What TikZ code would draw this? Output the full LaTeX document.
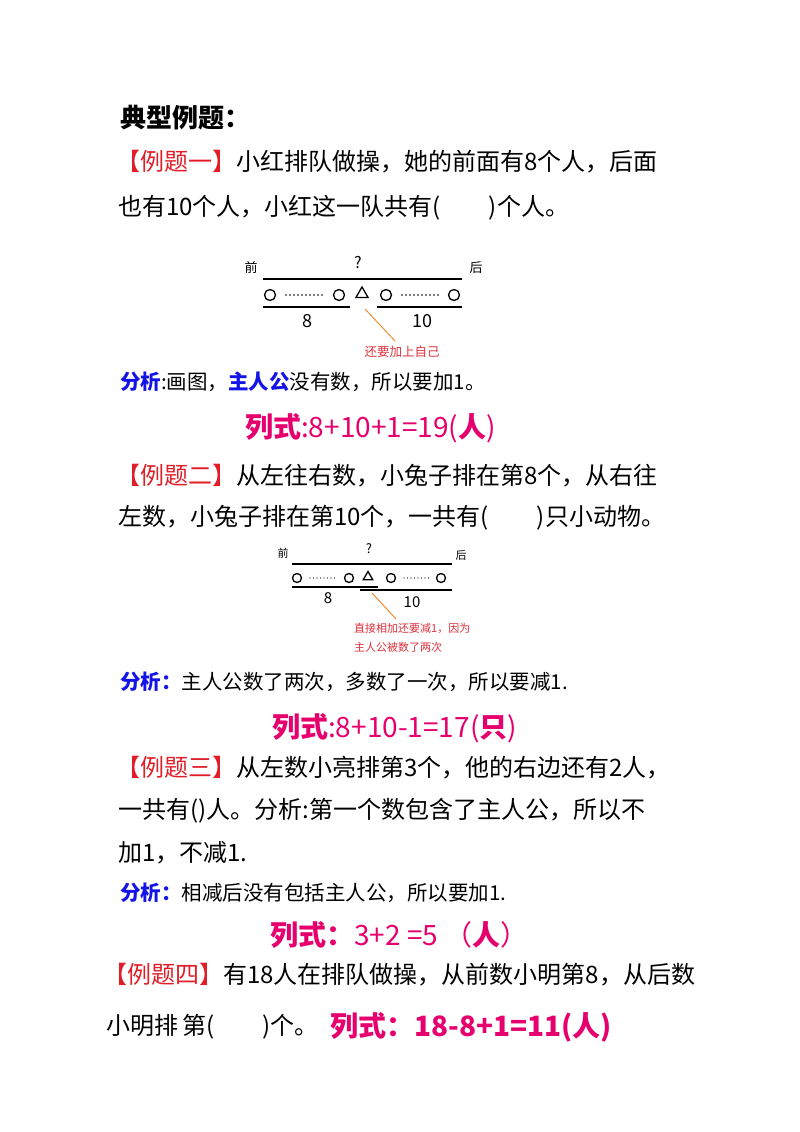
\documentclass[tikz,border=0pt]{standalone}
\usepackage{fontspec}
\setmainfont{Noto Sans CJK SC}
\definecolor{exred}{RGB}{225,30,40}
\definecolor{lsred}{RGB}{230,0,110}
\definecolor{anblue}{RGB}{20,20,230}
\definecolor{org}{RGB}{240,140,50}
\definecolor{lbl}{RGB}{220,50,60}
\usetikzlibrary{shapes.geometric}
\tikzset{
 body/.style={anchor=west,inner sep=0,font=\fontsize{24}{27}\selectfont},
 ana/.style={anchor=west,inner sep=0,font=\fontsize{20.5}{23}\selectfont},
 lis/.style={anchor=west,inner sep=0,text=lsred,font=\fontsize{28}{30}\selectfont},
 sm/.style={inner sep=0,font=\fontsize{13}{15}\selectfont},
 ln/.style={line width=1.6pt},
 circ/.style={circle,draw,line width=1.3pt,minimum size=11pt,inner sep=0},
 tri/.style={regular polygon,regular polygon sides=3,draw,line width=1.3pt,minimum size=14pt,inner sep=0},
 dots/.style={line width=1.8pt,dash pattern=on 0pt off 4pt,line cap=round},
}
\begin{document}
\begin{tikzpicture}[x=1pt,y=-1pt]
\useasboundingbox (0,0) rectangle (800,1132);
\fill[white] (0,0) rectangle (800,1132);
\node[anchor=west,inner sep=0,font=\fontsize{26}{28}\selectfont\bfseries] (t) at (120,118) {典型例题：};
\node[body] (l1) at (116,162) {\textcolor{exred}{【例题一】}小红排队做操，她的前面有8个人，后面};
\node[body] (l2) at (118,208) {也有10个人，小红这一队共有(\hspace{2em})个人。};
% diagram 1
\node[sm] (f1) at (251,268) {前};
\node[sm,font=\fontsize{16}{18}\selectfont] (q1) at (358,263) {?};
\node[sm] (h1) at (476,268) {后};
\coordinate (a1) at (263,279); \coordinate (b1) at (462,279);
\draw[ln] (a1) -- (b1);
\node[circ] (c1) at (270,295) {};
\node[circ] (c2) at (339,295) {};
\node[tri] (tr1) at (362,294) {};
\node[circ] (c3) at (386,295) {};
\node[circ] (c4) at (454,295) {};
\coordinate (d1a) at (286,295); \coordinate (d1b) at (322,295);
\coordinate (d2a) at (402,295); \coordinate (d2b) at (438,295);
\draw[dots] (d1a) -- (d1b); \draw[dots] (d2a) -- (d2b);
\coordinate (e1) at (263,307); \coordinate (e2) at (350,307);
\coordinate (e3) at (377,307); \coordinate (e4) at (462,307);
\draw[ln] (e1) -- (e2); \draw[ln] (e3) -- (e4);
\node[sm,font=\fontsize{18}{20}\selectfont] (n8) at (307,321) {8};
\node[sm,font=\fontsize{18}{20}\selectfont] (n10) at (422,321) {10};
\node[sm,text=lbl,font=\fontsize{12.5}{14}\selectfont] (lab1) at (402,352) {还要加上自己};
\coordinate (o1) at (365,309); \coordinate (o2) at (395,341);
\draw[org,line width=1pt] (o1) -- (o2);
\node[ana] (an1) at (120,382) {\textcolor{anblue}{\bfseries 分析}:画图，\textcolor{anblue}{\bfseries 主人公}没有数，所以要加1。};
\node[lis] (ls1) at (245,428) {\textbf{列式}:8+10+1=19(\textbf{人})};
\node[body] (l3) at (116,476) {\textcolor{exred}{【例题二】}从左往右数，小兔子排在第8个，从右往};
\node[body] (l4) at (118,518) {左数，小兔子排在第10个，一共有(\hspace{2em})只小动物。};
% diagram 2
\node[sm,font=\fontsize{11}{13}\selectfont] (f2) at (283,553) {前};
\node[sm,font=\fontsize{13}{15}\selectfont] (q2) at (369,549) {?};
\node[sm,font=\fontsize{11}{13}\selectfont] (h2) at (461,555) {后};
\coordinate (a2) at (292,564); \coordinate (b2) at (452,564);
\draw[line width=1.3pt] (a2) -- (b2);
\node[circ,minimum size=9pt] (k1) at (297,578) {};
\node[circ,minimum size=9pt] (k2) at (349,578) {};
\node[tri,minimum size=11pt] (tr2) at (368,577) {};
\node[circ,minimum size=9pt] (k3) at (391,578) {};
\node[circ,minimum size=9pt] (k4) at (441,578) {};
\coordinate (d3a) at (310,578); \coordinate (d3b) at (336,578);
\coordinate (d4a) at (404,578); \coordinate (d4b) at (429,578);
\draw[dots,line width=1.4pt,dash pattern=on 0pt off 3.5pt] (d3a) -- (d3b);
\draw[dots,line width=1.4pt,dash pattern=on 0pt off 3.5pt] (d4a) -- (d4b);
\coordinate (g1) at (292,587); \coordinate (g2) at (378,587);
\coordinate (g3) at (360,590); \coordinate (g4) at (452,590);
\draw[line width=1.3pt] (g1) -- (g2); \draw[line width=1.3pt] (g3) -- (g4);
\node[sm,font=\fontsize{15}{17}\selectfont] (m8) at (328,598) {8};
\node[sm,font=\fontsize{15}{17}\selectfont] (m10) at (412,602) {10};
\coordinate (p1) at (372,593); \coordinate (p2) at (396,619);
\draw[org,line width=1pt] (p1) -- (p2);
\node[sm,anchor=west,text=lbl,font=\fontsize{11}{13}\selectfont] (lab2) at (354,628) {直接相加还要减1，因为};
\node[sm,anchor=west,text=lbl,font=\fontsize{11}{13}\selectfont] (lab3) at (354,647) {主人公被数了两次};
\node[ana] (an2) at (120,682) {\textcolor{anblue}{\bfseries 分析：}主人公数了两次，多数了一次，所以要减1.};
\node[lis] (ls2) at (272,728) {\textbf{列式}:8+10-1=17(\textbf{只})};
\node[body] (l5) at (116,768) {\textcolor{exred}{【例题三】}从左数小亮排第3个，他的右边还有2人，};
\node[body] (l6) at (118,811) {一共有()人。分析:第一个数包含了主人公，所以不};
\node[body] (l7) at (118,853) {加1，不减1.};
\node[ana] (an3) at (120,893) {\textcolor{anblue}{\bfseries 分析：}相减后没有包括主人公，所以要加1.};
\node[lis] (ls3) at (270,935) {\textbf{列式：}3+2 =5 （\textbf{人}）};
\node[body] (l8) at (103,975) {\textcolor{exred}{【例题四】}有18人在排队做操，从前数小明第8，从后数};
\node[body] (l9) at (106,1027) {小明排\,第(\hspace{2em})个。};
\node[lis] (ls4) at (330,1027) {\textbf{列式：18-8+1=11(人)}};
\end{tikzpicture}
\end{document}
